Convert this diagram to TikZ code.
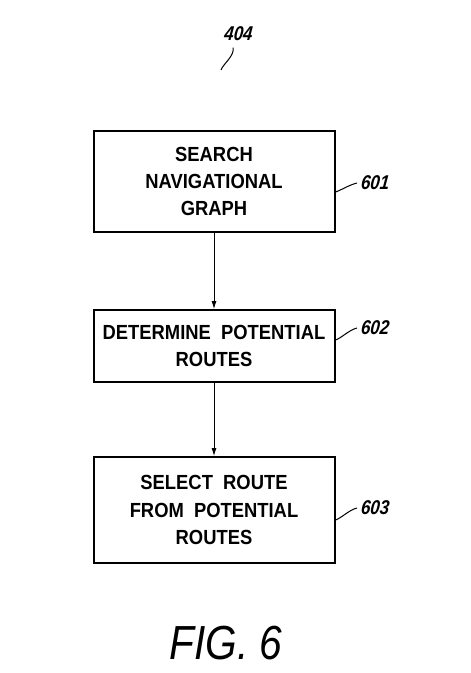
\documentclass[tikz,border=0pt]{standalone}
\usepackage{fontspec}
\setmainfont{Liberation Sans}
\newfontfamily\boxfont{Liberation Sans}[FakeStretch=0.9]
\newfontfamily\reffont{Liberation Sans}[FakeStretch=0.85,FakeSlant=0.1]
\usetikzlibrary{arrows.meta}
\begin{document}
\begin{tikzpicture}[x=1bp,y=-1bp,
  stepbox/.style={draw,line width=2bp,minimum width=241bp,inner sep=0pt,align=center,font=\boxfont\fontsize{20.5}{27.5}\selectfont\bfseries},
  ref/.style={font=\reffont\fontsize{20}{20}\selectfont\itshape\bfseries},
  lead/.style={line width=1bp},
  flow/.style={line width=0.8bp,-{Latex[length=8bp,width=5bp]}}]
\useasboundingbox (0,0) rectangle (471,673);
\node[stepbox,minimum height=100bp] (b1) at (214,181.5) {SEARCH\\NAVIGATIONAL\\GRAPH};
\node[stepbox,minimum height=72bp] (b2) at (214,346) {DETERMINE\ \ POTENTIAL\\ROUTES};
\node[stepbox,minimum height=106bp] (b3) at (214,510) {SELECT\ \ ROUTE\\FROM\ \ POTENTIAL\\ROUTES};
\draw[flow] (b1.south) -- (b2.north);
\draw[flow] (b2.south) -- (b3.north);
\node[ref] (r404) at (238,34) {404};
\coordinate (e404) at (221,70);
\draw[lead] (r404.south) ++(-5,3) .. controls +(2,8) and +(2,-6) .. (e404);
\node[ref,anchor=west] (r601) at (357,183) {601};
\node[ref,anchor=west] (r602) at (357,328) {602};
\node[ref,anchor=west] (r603) at (357,508) {603};
\draw[lead] (b1.east |- 0,192) .. controls +(6,-2) and +(-8,2) .. (r601.west);
\draw[lead] (b2.east |- 0,340) .. controls +(6,-2) and +(-8,2) .. (r602.west);
\draw[lead] (b3.east |- 0,520) .. controls +(6,-2) and +(-8,2) .. (r603.west);
\node[font=\fontsize{48}{48}\selectfont\itshape,xscale=0.85] (fig) at (226,643) {FIG. 6};
\end{tikzpicture}
\end{document}
